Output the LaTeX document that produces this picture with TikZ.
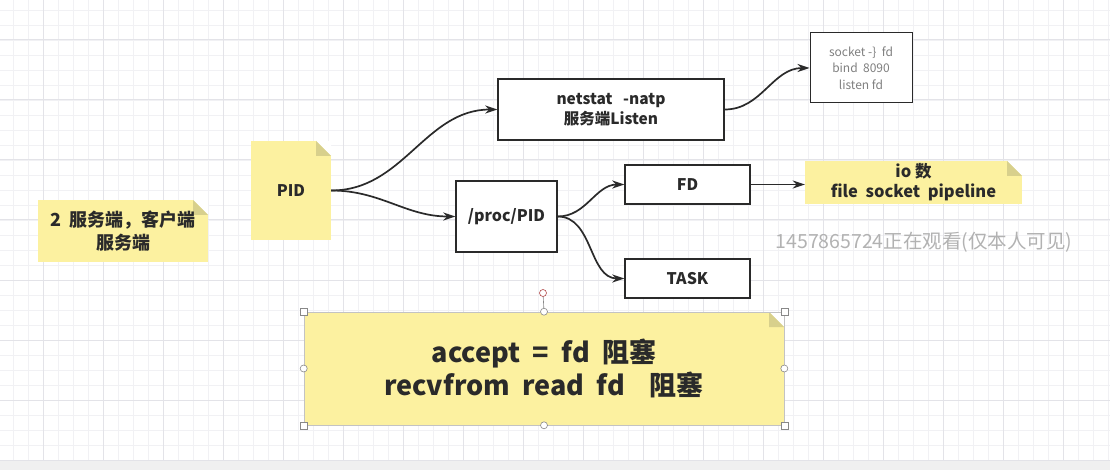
\documentclass[tikz,border=0pt]{standalone}
\usepackage{fontspec}
\setmainfont{Noto Sans CJK SC}
\usetikzlibrary{arrows.meta}
\definecolor{notey}{HTML}{FCF1A0}
\definecolor{foldc}{HTML}{D8D08C}
\definecolor{ink}{HTML}{2A2A2A}
\definecolor{gridminor}{HTML}{F1F1F4}
\definecolor{gridmajor}{HTML}{E3E3E8}
\definecolor{handle}{HTML}{888888}
\tikzset{
  notebox/.style={fill=notey, inner sep=2pt, align=center, text=ink, font=\bfseries,
    path picture={
      \fill[white] ([xshift=-15pt]path picture bounding box.north east) -- (path picture bounding box.north east) -- ([yshift=-15pt]path picture bounding box.north east) -- cycle;
      \fill[foldc] ([xshift=-15pt]path picture bounding box.north east) -- ([xshift=-15pt,yshift=-15pt]path picture bounding box.north east) -- ([yshift=-15pt]path picture bounding box.north east) -- cycle;
    }},
  plainbox/.style={draw=ink, line width=1.4pt, fill=white, align=center, text=ink, font=\bfseries},
  conn/.style={draw=ink, line width=1.7pt, -{Stealth[length=12pt,width=8pt]}},
  hsq/.style={draw=handle, fill=white, line width=0.6pt, minimum size=7pt, inner sep=0pt},
  hci/.style={draw=handle, fill=white, line width=0.6pt, circle, minimum size=7pt, inner sep=0pt}
}
\begin{document}
\begin{tikzpicture}[x=1pt,y=-1pt]
\useasboundingbox (0,0) rectangle (1110,470);
\fill[white] (0,0) rectangle (1110,470);
% grid
\foreach \x in {-2,13,...,1110} \draw[gridminor, line width=0.8pt] (\x,0) -- (\x,460);
\foreach \y in {10,25,...,460} \draw[gridminor, line width=0.8pt] (0,\y) -- (1110,\y);
\foreach \x in {43,103,...,1110} \draw[gridmajor, line width=1pt] (\x,0) -- (\x,460);
\foreach \y in {40,100,...,460} \draw[gridmajor, line width=1pt] (0,\y) -- (1110,\y);
\fill[gray!12] (0,461) rectangle (1110,470);

% notes
\node[notebox, minimum width=170pt, minimum height=62pt, font=\bfseries\fontsize{18}{23}\selectfont] (n2) at (123,231) {2\ \ 服务端，客户端\\服务端};
\node[notebox, minimum width=80pt, minimum height=99pt, font=\bfseries\fontsize{16}{20}\selectfont] (pid) at (291,190.5) {PID};
\node[notebox, minimum width=217pt, minimum height=43pt, font=\bfseries\fontsize{16.5}{20}\selectfont] (io) at (913.5,182.5) {io 数\\file\ \ socket\ \ pipeline};

% boxes
\node[plainbox, minimum width=226pt, minimum height=61pt, font=\bfseries\fontsize{15.5}{20}\selectfont] (net) at (611,109.5) {netstat\ \ \ -natp\\服务端Listen};
\node[plainbox, line width=1pt, minimum width=102pt, minimum height=70pt, text=gray, font=\fontsize{12}{16.5}\selectfont] (sock) at (861,68) {socket -\}\ \ fd\\bind\ \ 8090\\listen fd};
\node[plainbox, minimum width=101pt, minimum height=71pt, font=\bfseries\fontsize{16}{20}\selectfont] (proc) at (506.5,216.5) {/proc/PID};
\node[plainbox, minimum width=125pt, minimum height=39pt, font=\bfseries\fontsize{16}{20}\selectfont] (fd) at (687.5,184.5) {FD};
\node[plainbox, minimum width=125pt, minimum height=39pt, font=\bfseries\fontsize{16}{20}\selectfont] (task) at (687.5,278.5) {TASK};

% big note with selection handles
\node[notebox, draw=handle!50, line width=0.6pt, minimum width=480pt, minimum height=113pt, font=\bfseries\fontsize{27}{33}\selectfont] (big) at (544,368.5) {accept\ \ =\ \ fd\ \ 阻塞\\recvfrom\ \ read\ \ fd\ \ \ \ 阻塞};
\coordinate (rot) at (543,293);
\draw[handle, line width=0.6pt] (big.north) -- (rot);
\node[hci, draw=red!40!gray] (rh) at (rot) {};
\node[hsq] (h1) at (big.north west) {};
\node[hsq] (h2) at (big.north east) {};
\node[hsq] (h3) at (big.south west) {};
\node[hsq] (h4) at (big.south east) {};
\node[hci] (h5) at (big.north) {};
\node[hci] (h6) at (big.south) {};
\node[hci] (h7) at (big.west) {};
\node[hci] (h8) at (big.east) {};

% watermark
\node[text=gray!60, font=\fontsize{19.5}{20}\selectfont, inner sep=0pt] (wm) at (924,242) {1457865724正在观看(仅本人可见)};

% connectors
\draw[conn] (pid.east) to[out=0,in=180] (net.west);
\draw[conn] (pid.east) to[out=0,in=180] (proc.west);
\draw[conn] (net.east) to[out=0,in=180] (sock.west);
\draw[conn] (proc.east) to[out=0,in=180] (fd.west);
\draw[conn] (proc.east) to[out=0,in=180] (task.west);
\draw[conn] (fd.east) -- (io.west |- fd.east);
\end{tikzpicture}
\end{document}
